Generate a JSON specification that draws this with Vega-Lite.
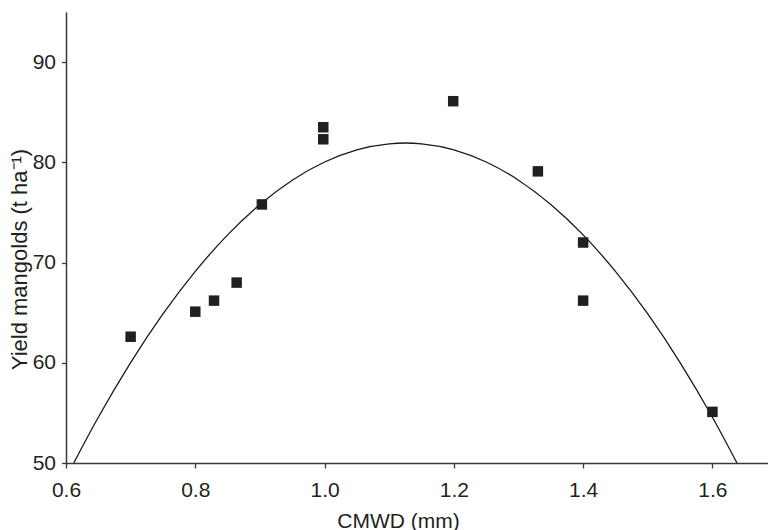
{
  "$schema": "https://vega.github.io/schema/vega-lite/v6.json",
  "width": 702,
  "height": 451,
  "autosize": {"type": "none"},
  "padding": {"left": 66, "top": 12, "right": 0, "bottom": 67},
  "background": "white",
  "config": {
    "view": {"stroke": null},
    "font": "Liberation Sans",
    "axis": {
      "grid": false,
      "domainColor": "#3a3a3a",
      "domainWidth": 1.5,
      "tickColor": "#3a3a3a",
      "tickWidth": 1.3,
      "labelFont": "Liberation Sans",
      "labelFontSize": 21,
      "labelColor": "#231f20",
      "titleFont": "Liberation Sans",
      "titleFontSize": 21,
      "titleFontWeight": "normal",
      "titleColor": "#231f20"
    }
  },
  "datasets": {
    "points": [
      {"cmwd": 0.70, "yield": 62.6},
      {"cmwd": 0.80, "yield": 65.1},
      {"cmwd": 0.829, "yield": 66.2},
      {"cmwd": 0.864, "yield": 68.0},
      {"cmwd": 0.903, "yield": 75.8},
      {"cmwd": 0.998, "yield": 83.5},
      {"cmwd": 0.998, "yield": 82.3},
      {"cmwd": 1.199, "yield": 86.1},
      {"cmwd": 1.33, "yield": 79.1},
      {"cmwd": 1.40, "yield": 72.0},
      {"cmwd": 1.40, "yield": 66.2},
      {"cmwd": 1.60, "yield": 55.1}
    ],
    "curve": [
      {"cmwd": 0.612, "yield": 50.0},
      {"cmwd": 0.65, "yield": 54.56},
      {"cmwd": 0.70, "yield": 60.02},
      {"cmwd": 0.75, "yield": 64.87},
      {"cmwd": 0.80, "yield": 69.12},
      {"cmwd": 0.85, "yield": 72.76},
      {"cmwd": 0.90, "yield": 75.79},
      {"cmwd": 0.95, "yield": 78.22},
      {"cmwd": 1.00, "yield": 80.03},
      {"cmwd": 1.05, "yield": 81.25},
      {"cmwd": 1.10, "yield": 81.85},
      {"cmwd": 1.125, "yield": 81.93},
      {"cmwd": 1.15, "yield": 81.85},
      {"cmwd": 1.20, "yield": 81.25},
      {"cmwd": 1.25, "yield": 80.03},
      {"cmwd": 1.30, "yield": 78.22},
      {"cmwd": 1.35, "yield": 75.79},
      {"cmwd": 1.40, "yield": 72.76},
      {"cmwd": 1.45, "yield": 69.12},
      {"cmwd": 1.50, "yield": 64.87},
      {"cmwd": 1.55, "yield": 60.02},
      {"cmwd": 1.60, "yield": 54.56},
      {"cmwd": 1.638, "yield": 50.0}
    ]
  },
  "encoding": {
    "x": {
      "field": "cmwd",
      "type": "quantitative",
      "scale": {"domain": [0.6, 1.686], "nice": false, "zero": false},
      "axis": {
        "title": "CMWD (mm)",
        "values": [0.6, 0.8, 1.0, 1.2, 1.4, 1.6],
        "format": ".1f",
        "tickSize": 5,
        "labelPadding": 11,
        "labelFlush": false,
        "titleX": 332,
        "titleY": 64,
        "titleAnchor": null,
        "titleAlign": "center",
        "titleBaseline": "alphabetic"
      }
    },
    "y": {
      "field": "yield",
      "type": "quantitative",
      "scale": {"domain": [50, 95], "nice": false, "zero": false},
      "axis": {
        "title": "Yield mangolds (t ha⁻¹)",
        "titleFontSize": 22,
        "values": [50, 60, 70, 80, 90],
        "tickSize": 4.5,
        "labelPadding": 6,
        "labelFlush": false,
        "titleAngle": -90,
        "titleX": -47,
        "titleY": 247,
        "titleAlign": "center",
        "titleBaseline": "middle"
      }
    }
  },
  "layer": [
    {
      "data": {"name": "curve"},
      "mark": {"type": "line", "interpolate": "monotone", "color": "#1a1a1a", "strokeWidth": 1.3, "clip": true}
    },
    {
      "data": {"name": "points"},
      "mark": {"type": "point", "shape": "square", "filled": true, "size": 110, "color": "#231f20", "opacity": 1}
    }
  ]
}
